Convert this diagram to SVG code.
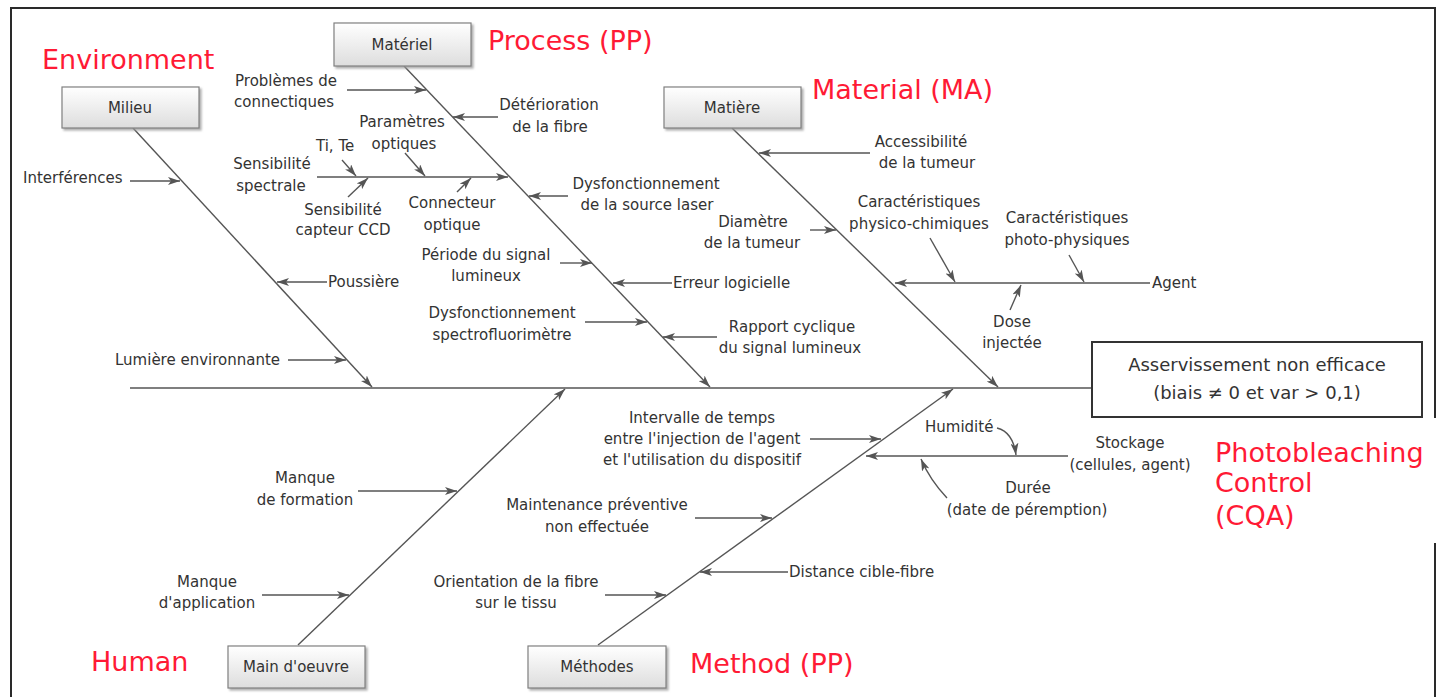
<svg xmlns="http://www.w3.org/2000/svg" width="1447" height="697" viewBox="0 0 1447 697">
<style>
.lbl{font-family:"DejaVu Sans",sans-serif;font-size:15px;fill:#333}
.mid{text-anchor:middle}
.red{font-family:"DejaVu Sans",sans-serif;font-size:27px;fill:#ff1a35}
.ln{stroke:#555;stroke-width:1.4;fill:none}
.arr{stroke:#555;stroke-width:1.4;fill:none;marker-end:url(#ah)}
.box{fill:url(#bg);stroke:#808080;stroke-width:1.2;filter:url(#sh)}
.bl{font-family:"DejaVu Sans",sans-serif;font-size:15px;fill:#333;text-anchor:middle}
</style>
<defs>
<linearGradient id="bg" x1="0" y1="0" x2="0" y2="1">
<stop offset="0" stop-color="#ffffff"/>
<stop offset="1" stop-color="#dddddd"/>
</linearGradient>
<filter id="sh" x="-10%" y="-20%" width="130%" height="150%">
<feDropShadow dx="2" dy="2" stdDeviation="1.2" flood-color="#999" flood-opacity="0.8"/>
</filter>
<marker id="ah" viewBox="0 0 12 8" refX="12" refY="4" markerWidth="12" markerHeight="8" markerUnits="userSpaceOnUse" orient="auto">
<path d="M0,0 L12,4 L0,8 L3,4 z" fill="#555"/>
</marker>
</defs>
<rect width="1447" height="697" fill="#fff"/>
<g id="frame" fill="none" stroke="#2a2a2a" stroke-width="2">
<path d="M11,697 V8 H1435 V418"/>
<path d="M1435,543 V697"/>
</g>

<g id="connectors">
<line class="ln" x1="130" y1="388" x2="1092" y2="388"/>
<line class="arr" x1="133" y1="128" x2="372" y2="387"/>
<line class="arr" x1="404" y1="66" x2="710" y2="387"/>
<line class="arr" x1="732" y1="128" x2="998" y2="387"/>
<line class="arr" x1="298" y1="645" x2="565" y2="389"/>
<line class="arr" x1="598" y1="645" x2="953" y2="389"/>
<line class="arr" x1="130" y1="181" x2="180" y2="181"/>
<line class="arr" x1="327" y1="282" x2="277" y2="282"/>
<line class="arr" x1="288" y1="360" x2="346" y2="360"/>
<line class="arr" x1="347" y1="90" x2="426" y2="90"/>
<line class="arr" x1="498" y1="117" x2="453" y2="117"/>
<line class="arr" x1="317" y1="177" x2="508" y2="177"/>
<line class="arr" x1="342" y1="160" x2="356" y2="176"/>
<line class="arr" x1="348" y1="197" x2="368" y2="178"/>
<line class="arr" x1="405" y1="153" x2="425" y2="176"/>
<line class="arr" x1="457" y1="192" x2="471" y2="178"/>
<line class="arr" x1="568" y1="196" x2="529" y2="196"/>
<line class="arr" x1="560" y1="263" x2="592" y2="263"/>
<line class="arr" x1="672" y1="283" x2="613" y2="283"/>
<line class="arr" x1="585" y1="322" x2="647" y2="322"/>
<line class="arr" x1="717" y1="337" x2="663" y2="337"/>
<line class="arr" x1="870" y1="153" x2="759" y2="153"/>
<line class="arr" x1="810" y1="230" x2="836" y2="230"/>
<line class="arr" x1="1150" y1="283" x2="895" y2="283"/>
<line class="arr" x1="930" y1="238" x2="955" y2="282"/>
<line class="arr" x1="1069" y1="255" x2="1084" y2="282"/>
<line class="arr" x1="1010" y1="310" x2="1021" y2="285"/>
<line class="arr" x1="358" y1="491" x2="457" y2="491"/>
<line class="arr" x1="262" y1="595" x2="349" y2="595"/>
<line class="arr" x1="810" y1="439" x2="881" y2="439"/>
<line class="arr" x1="1068" y1="456" x2="866" y2="456"/>
<path class="arr" d="M997,428 Q1013,432 1016,455"/>
<path class="arr" d="M947,498 Q930,480 921,459"/>
<line class="arr" x1="695" y1="518" x2="772" y2="518"/>
<line class="arr" x1="788" y1="572" x2="700" y2="572"/>
<line class="arr" x1="605" y1="595" x2="666" y2="595"/>
</g>

<g id="node-milieu"><rect class="box" x="62" y="87" width="137" height="41"/><text class="bl" x="130" y="113">Milieu</text></g>
<g id="node-materiel"><rect class="box" x="334" y="23" width="137" height="43"/><text class="bl" x="402" y="50">Matériel</text></g>
<g id="node-matiere"><rect class="box" x="664" y="87" width="137" height="41"/><text class="bl" x="732" y="113">Matière</text></g>
<g id="node-main"><rect class="box" x="228" y="646" width="137" height="42"/><text class="bl" x="296" y="672">Main d'oeuvre</text></g>
<g id="node-methodes"><rect class="box" x="528" y="646" width="138" height="42"/><text class="bl" x="597" y="672">Méthodes</text></g>

<g id="node-effect">
<rect x="1092" y="342" width="330" height="75" fill="#fff" stroke="#333" stroke-width="2"/>
<text x="1257" y="371" font-family="DejaVu Sans, sans-serif" font-size="18" fill="#333" text-anchor="middle">Asservissement non efficace</text>
<text x="1257" y="399" font-family="DejaVu Sans, sans-serif" font-size="18" fill="#333" text-anchor="middle">(biais ≠ 0 et var &gt; 0,1)</text>
</g>

<g id="red-labels">
<text class="red" x="42" y="69">Environment</text>
<text class="red" x="488" y="50">Process (PP)</text>
<text class="red" x="812" y="99">Material (MA)</text>
<text class="red" x="91" y="671">Human</text>
<text class="red" x="690" y="673">Method (PP)</text>
<text class="red" x="1215" y="462">Photobleaching</text>
<text class="red" x="1215" y="492">Control</text>
<text class="red" x="1215" y="525">(CQA)</text>
</g>

<g id="cause-interferences"><text class="lbl" x="23" y="183">Interférences</text></g>
<g id="cause-poussiere"><text class="lbl" x="328" y="287">Poussière</text></g>
<g id="cause-lumiere"><text class="lbl" x="115" y="365">Lumière environnante</text></g>

<g id="cause-connectique"><text class="lbl mid" x="286" y="86">Problèmes de</text><text class="lbl mid" x="284" y="107">connectiques</text></g>
<g id="cause-fibre"><text class="lbl mid" x="549" y="110">Détérioration</text><text class="lbl mid" x="550" y="132">de la fibre</text></g>
<g id="cause-parametres"><text class="lbl mid" x="402" y="127">Paramètres</text><text class="lbl mid" x="404" y="149">optiques</text></g>
<g id="cause-tite"><text class="lbl" x="316" y="151">Ti, Te</text></g>
<g id="cause-spectrale"><text class="lbl mid" x="272" y="169">Sensibilité</text><text class="lbl mid" x="271" y="191">spectrale</text></g>
<g id="cause-ccd"><text class="lbl mid" x="343" y="215">Sensibilité</text><text class="lbl mid" x="343" y="235">capteur CCD</text></g>
<g id="cause-connecteur"><text class="lbl mid" x="452" y="208">Connecteur</text><text class="lbl mid" x="452" y="230">optique</text></g>
<g id="cause-laser"><text class="lbl mid" x="646" y="189">Dysfonctionnement</text><text class="lbl mid" x="647" y="210">de la source laser</text></g>
<g id="cause-periode"><text class="lbl mid" x="486" y="260">Période du signal</text><text class="lbl mid" x="486" y="281">lumineux</text></g>
<g id="cause-logiciel"><text class="lbl" x="673" y="288">Erreur logicielle</text></g>
<g id="cause-spectro"><text class="lbl mid" x="502" y="318">Dysfonctionnement</text><text class="lbl mid" x="502" y="340">spectrofluorimètre</text></g>
<g id="cause-rapport"><text class="lbl mid" x="792" y="332">Rapport cyclique</text><text class="lbl mid" x="790" y="353">du signal lumineux</text></g>

<g id="cause-accessibilite"><text class="lbl mid" x="921" y="147">Accessibilité</text><text class="lbl mid" x="927" y="168">de la tumeur</text></g>
<g id="cause-diametre"><text class="lbl mid" x="753" y="227">Diamètre</text><text class="lbl mid" x="752" y="248">de la tumeur</text></g>
<g id="cause-physico"><text class="lbl mid" x="919" y="207">Caractéristiques</text><text class="lbl mid" x="919" y="229">physico-chimiques</text></g>
<g id="cause-photo"><text class="lbl mid" x="1067" y="223">Caractéristiques</text><text class="lbl mid" x="1067" y="245">photo-physiques</text></g>
<g id="cause-agent"><text class="lbl" x="1152" y="288">Agent</text></g>
<g id="cause-dose"><text class="lbl mid" x="1012" y="327">Dose</text><text class="lbl mid" x="1012" y="348">injectée</text></g>

<g id="cause-formation"><text class="lbl mid" x="305" y="483">Manque</text><text class="lbl mid" x="305" y="505">de formation</text></g>
<g id="cause-application"><text class="lbl mid" x="207" y="587">Manque</text><text class="lbl mid" x="207" y="608">d'application</text></g>

<g id="cause-intervalle"><text class="lbl mid" x="702" y="423">Intervalle de temps</text><text class="lbl mid" x="702" y="444">entre l'injection de l'agent</text><text class="lbl mid" x="702" y="465">et l'utilisation du dispositif</text></g>
<g id="cause-humidite"><text class="lbl" x="925" y="432">Humidité</text></g>
<g id="cause-stockage"><text class="lbl mid" x="1130" y="448">Stockage</text><text class="lbl mid" x="1130" y="470">(cellules, agent)</text></g>
<g id="cause-duree"><text class="lbl mid" x="1028" y="493">Durée</text><text class="lbl mid" x="1027" y="515">(date de péremption)</text></g>
<g id="cause-maintenance"><text class="lbl mid" x="597" y="510">Maintenance préventive</text><text class="lbl mid" x="597" y="532">non effectuée</text></g>
<g id="cause-distance"><text class="lbl" x="789" y="577">Distance cible-fibre</text></g>
<g id="cause-orientation"><text class="lbl mid" x="516" y="587">Orientation de la fibre</text><text class="lbl mid" x="516" y="608">sur le tissu</text></g>
</svg>
